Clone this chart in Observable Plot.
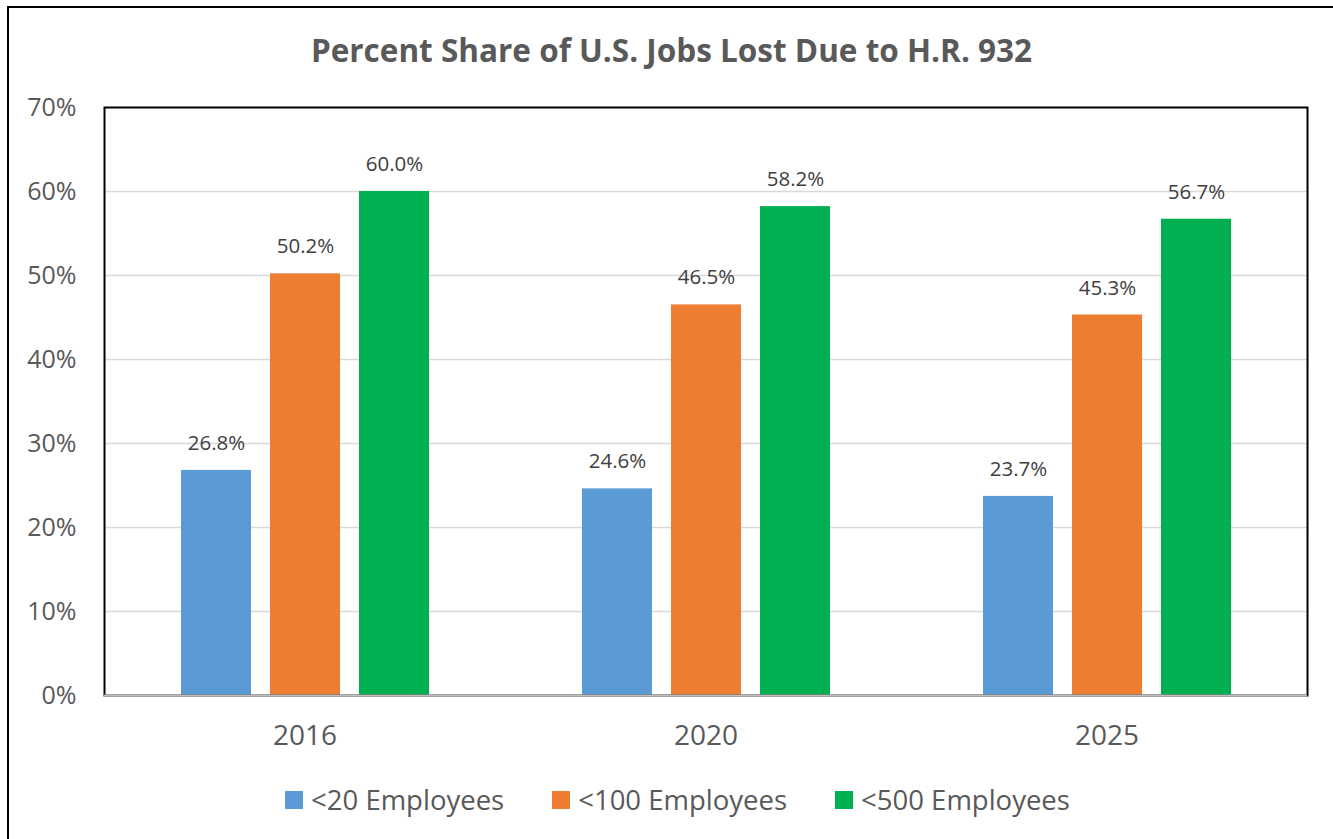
<!DOCTYPE html>
<html><head><meta charset="utf-8">
<script src="https://cdn.jsdelivr.net/npm/d3@7"></script>
<script src="https://cdn.jsdelivr.net/npm/@observablehq/plot@0.6"></script>
<style>
body{margin:0;background:#fff;}
#wrap{position:relative;width:1333px;height:839px;overflow:hidden;font-family:"Open Sans",sans-serif;background:#fff;}
#border{position:absolute;left:7px;top:6px;width:1400px;height:900px;border-left:2px solid #000;border-top:2px solid #000;}
#title{position:absolute;top:28px;left:0;width:1343px;text-align:center;font-size:31.5px;font-weight:bold;color:#595959;line-height:44px;}
#chart{position:absolute;left:0;top:0;}
#legend{position:absolute;top:780px;left:0;width:1355px;display:flex;justify-content:center;gap:48px;font-size:27.5px;color:#595959;line-height:40px;}
.item{display:flex;align-items:center;gap:8px;}
.sw{width:18px;height:18px;display:inline-block;}
</style></head>
<body>
<div id="wrap">
  <div id="border"></div>
  <div id="chart"></div>
  <div id="title">Percent Share of U.S. Jobs Lost Due to H.R. 932</div>
  <div id="legend"></div>
</div>
<script>
const years = ["2016", "2020", "2025"];
const seriesNames = ["<20 Employees", "<100 Employees", "<500 Employees"];
const seriesColors = ["#5B9BD5", "#ED7D31", "#00B050"];
const lt20 = [26.8, 24.6, 23.7];
const lt100 = [50.2, 46.5, 45.3];
const lt500 = [60.0, 58.2, 56.7];
const yTicks = [0, 10, 20, 30, 40, 50, 60, 70];

const seriesValues = [lt20, lt100, lt500];
const data = [];
years.forEach((yr, i) => {
  seriesNames.forEach((s, j) => {
    data.push({year: yr, series: s, value: seriesValues[j][i]});
  });
});

const plot = Plot.plot({
  width: 1333,
  height: 760,
  marginLeft: 103,
  marginRight: 26,
  marginTop: 107,
  marginBottom: 65,
  style: {fontFamily: "'Open Sans', sans-serif", background: "transparent", color: "#595959"},
  fx: {domain: years, padding: 0, label: null},
  x: {domain: seriesNames, paddingInner: 0.2135, paddingOuter: 0.85, axis: null},
  y: {domain: [0, 70], label: null},
  color: {domain: seriesNames, range: seriesColors},
  marks: [
    Plot.gridY(yTicks.filter(t => t > 0 && t < 70), {stroke: "#d9d9d9", strokeOpacity: 1, strokeWidth: 1.5}),
    Plot.axisY(yTicks, {tickSize: 0, tickPadding: 28, fontSize: 25, fill: "#595959", tickFormat: d => d + "%", label: null}),
    Plot.axisFx({anchor: "bottom", tickSize: 0, tickPadding: 30, fontSize: 28, fill: "#595959", label: null}),
    Plot.barY(data, {fx: "year", x: "series", y: "value", fill: "series"}),
    Plot.text(data, {fx: "year", x: "series", y: "value", text: d => d.value.toFixed(1) + "%", dy: -27, fontSize: 20.5, fill: "#404040"}),
    Plot.frame({stroke: "#000", strokeWidth: 2, facet: "super"}),
    Plot.ruleY([0], {stroke: "#bfbfbf", strokeWidth: 2})
  ]
});
document.getElementById("chart").appendChild(plot);

const legend = document.getElementById("legend");
seriesNames.forEach((s, j) => {
  const it = document.createElement("div");
  it.className = "item";
  const sw = document.createElement("span");
  sw.className = "sw";
  sw.style.background = seriesColors[j];
  const tx = document.createElement("span");
  tx.textContent = s;
  it.appendChild(sw); it.appendChild(tx);
  legend.appendChild(it);
});
</script>
</body></html>
